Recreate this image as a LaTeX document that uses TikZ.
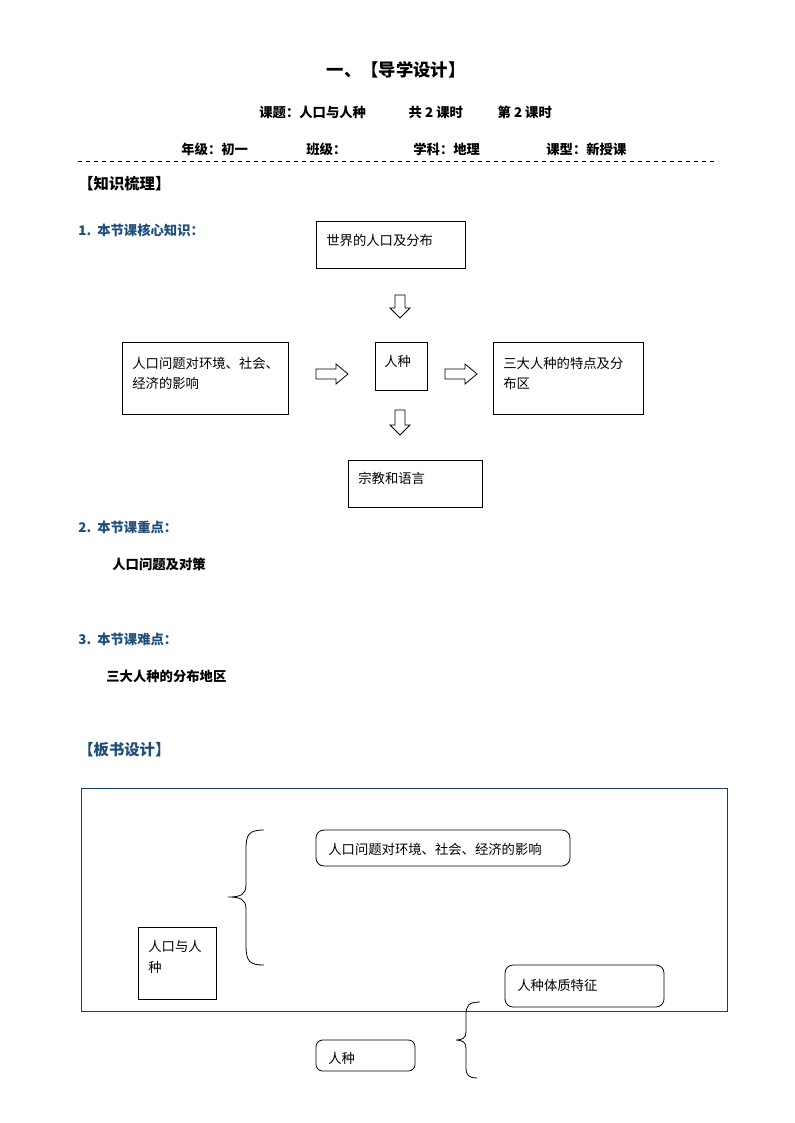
\documentclass[tikz,border=0pt]{standalone}
\usepackage{fontspec}
\setmainfont{Noto Sans CJK SC}
\definecolor{hblue}{HTML}{1F4E79}
\begin{document}
\begin{tikzpicture}[x=0.75pt,y=-0.75pt,line width=0.6pt,
  tx/.style={anchor=west,inner sep=0pt,font=\fontsize{10}{12}\selectfont},
  bx/.style={anchor=west,inner sep=0pt,font=\bfseries\fontsize{10}{12}\selectfont},
  harrow/.style={draw,fill=white}]
\useasboundingbox (0,0) rectangle (794,1123);
\node[anchor=center,font=\bfseries\fontsize{13}{15}\selectfont] (title) at (396,70) {一、【导学设计】};
\node[bx] (l1) at (259,112) {课题：人口与人种\hspace{3.2em}共 2 课时\hspace{2.6em}第 2 课时};
\node[bx] (l2a) at (181,149) {年级：初一};
\node[bx] (l2b) at (306,149) {班级：};
\node[bx] (l2c) at (413,149) {学科：地理};
\node[bx] (l2d) at (546,149) {课型：新授课};
\draw[dashed] (78,161) -- (718,161);
\node[anchor=west,inner sep=0pt,font=\bfseries\fontsize{11.5}{13}\selectfont] (h1) at (78,184) {【知识梳理】};
\node[bx,text=hblue] (s1) at (78,230) {1.\ \ 本节课核心知识：};
\draw (316,221) rectangle (465,268);
\node[tx] (a) at (326,240) {世界的人口及分布};
\draw (122,342) rectangle (288,414);
\node[tx,align=left] (b) at (132,373) {人口问题对环境、社会、\\[3pt]经济的影响};
\draw (375,342) rectangle (427,390);
\node[tx] (c) at (384,361) {人种};
\draw (493,342) rectangle (643,414);
\node[tx,align=left] (d) at (503,373) {三大人种的特点及分\\[3pt]布区};
\draw (348,460) rectangle (482,507);
\node[tx] (e) at (358,478) {宗教和语言};
\foreach \cx/\ya/\yb in {400/295/318, 400/410/435}{
  \draw[harrow] (\cx-5,\ya) -- (\cx+5,\ya) -- (\cx+5,\yb-10) -- (\cx+10,\yb-10) -- (\cx,\yb) -- (\cx-10,\yb-10) -- (\cx-5,\yb-10) -- cycle;}
\foreach \xa/\xb in {316/348, 445/477}{
  \draw[harrow] (\xa,369) -- (\xb-12,369) -- (\xb-12,364) -- (\xb,374) -- (\xb-12,384) -- (\xb-12,379) -- (\xa,379) -- cycle;}
\node[bx,text=hblue] (s2) at (78,527) {2.\ \ 本节课重点：};
\node[bx] (t2) at (112,564) {人口问题及对策};
\node[bx,text=hblue] (s3) at (78,639) {3.\ \ 本节课难点：};
\node[bx] (t3) at (106,676) {三大人种的分布地区};
\node[anchor=west,inner sep=0pt,text=hblue,font=\bfseries\fontsize{11.5}{13}\selectfont] (h2) at (78,750) {【板书设计】};
\draw[draw=hblue!80!black] (81,788) rectangle (727,1011);
\draw[rounded corners=6pt] (316,830) rectangle (570,866);
\node[tx] (f) at (328,849) {人口问题对环境、社会、经济的影响};
\draw (138,927) rectangle (216,999);
\node[tx,align=left] (g) at (148,957) {人口与人\\[4pt]种};
\draw[rounded corners=6pt] (505,965) rectangle (664,1007);
\node[tx] (h) at (517,985) {人种体质特征};
\draw[rounded corners=5pt] (316,1040) rectangle (415,1071);
\node[tx] (i) at (328,1058) {人种};
\draw (264,830) .. controls (248,830) and (246,835) .. (246,850) -- (246,885) .. controls (246,895) and (240,897) .. (228,897) .. controls (240,897) and (246,899) .. (246,909) -- (246,945) .. controls (246,962) and (250,965) .. (264,965);
\draw (480,1002) .. controls (468,1002) and (466,1006) .. (466,1015) -- (466,1032) .. controls (466,1038) and (462,1040) .. (456,1040) .. controls (462,1040) and (466,1042) .. (466,1048) -- (466,1068) .. controls (466,1076) and (470,1078) .. (477,1078);
\end{tikzpicture}
\end{document}
